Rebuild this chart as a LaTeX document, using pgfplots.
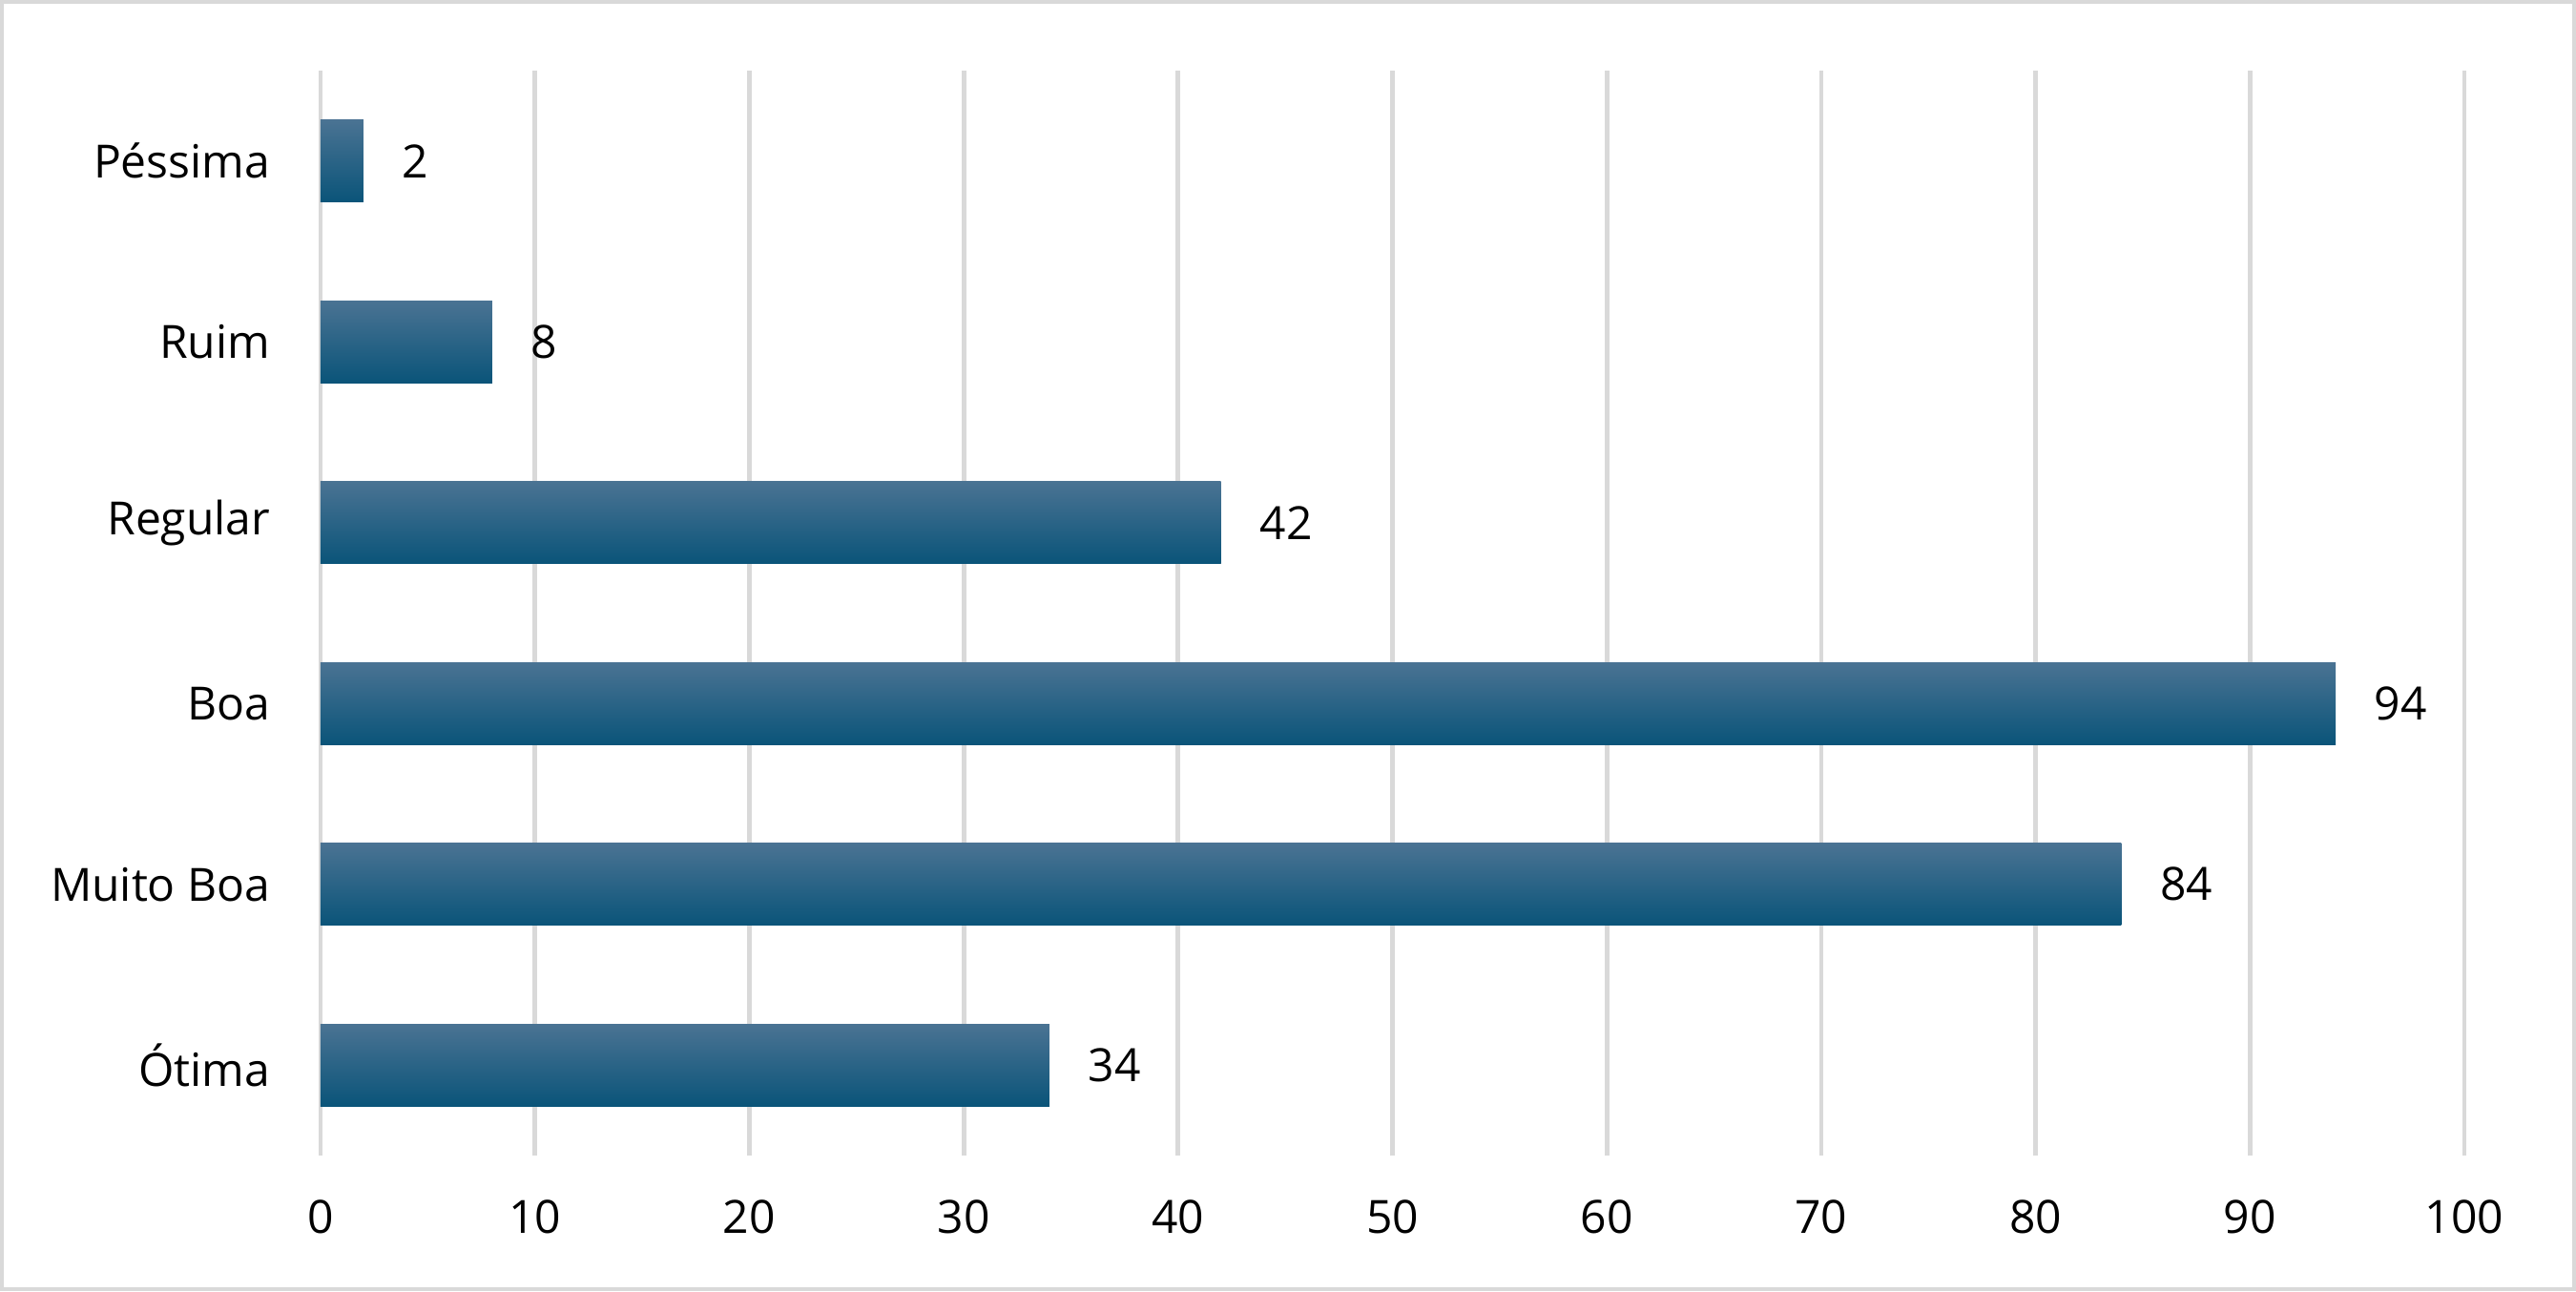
\documentclass[border=0pt]{standalone}
\usepackage{fontspec}
\setmainfont{Open Sans}
\usepackage{pgfplots}
\pgfplotsset{compat=1.18}
\definecolor{gridgray}{HTML}{D9D9D9}
\definecolor{bartop}{HTML}{4A7393}
\definecolor{barmid}{HTML}{115F87}
\definecolor{barbot}{HTML}{0A5479}
\begin{document}
\begin{tikzpicture}
\useasboundingbox (0,0) rectangle (675pt,338.25pt);
\draw[gridgray, line width=1pt] (0.5pt,0.5pt) rectangle (674.5pt,337.75pt);
\begin{axis}[
  at={(84pt,35.5pt)}, anchor=south west,
  scale only axis, width=561.75pt, height=284.25pt,
  xmin=0, xmax=100, ymin=-0.5, ymax=5.5,
  xtick={0,10,...,100},
  ytick={0,...,5},
  yticklabels={Ótima, Muito Boa, Boa, Regular, Ruim, Péssima},
  axis line style={draw=none},
  major tick length=0pt,
  xmajorgrids, grid style={gridgray, line width=1.2pt},
  /pgf/number format/assume math mode=true,
  tick label style={font=\fontsize{12}{14}\selectfont, text=black},
  xticklabel style={inner sep=0pt, anchor=north, yshift=-11.5pt},
  yticklabel style={inner sep=0pt, anchor=east, xshift=-13pt},
  clip=false,
  xbar, bar width=21.5pt, bar shift=0pt,
  point meta=x,
  nodes near coords,
  every node near coord/.append style={font=\fontsize{12}{14}\selectfont, text=black, anchor=west, inner sep=0pt, xshift=10pt},
  every axis plot/.append style={draw=none, top color=bartop, middle color=barmid, bottom color=barbot},
]
\addplot coordinates {(34,0)};
\addplot coordinates {(84,1)};
\addplot coordinates {(94,2)};
\addplot coordinates {(42,3)};
\addplot coordinates {(8,4)};
\addplot coordinates {(2,5)};
\end{axis}
\end{tikzpicture}
\end{document}
